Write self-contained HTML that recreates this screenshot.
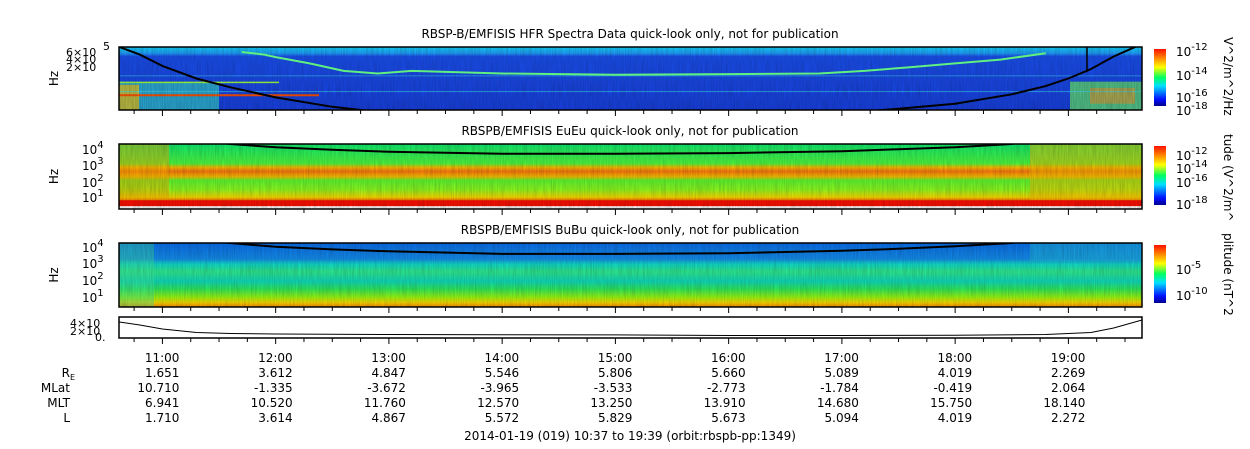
<!DOCTYPE html>
<html><head><meta charset="utf-8">
<style>
html,body{margin:0;padding:0;background:#fff;}
svg{display:block;font-family:"DejaVu Sans","Liberation Sans",sans-serif;}
</style></head>
<body>
<svg id="chart" width="1250" height="449" viewBox="0 0 1250 449">
<defs>
 <linearGradient id="jet" x1="0" y1="1" x2="0" y2="0">
  <stop offset="0" stop-color="#00008f"/><stop offset="0.12" stop-color="#0010ff"/>
  <stop offset="0.35" stop-color="#00e0ff"/><stop offset="0.5" stop-color="#00ff60"/>
  <stop offset="0.68" stop-color="#ffff00"/><stop offset="0.85" stop-color="#ff8000"/>
  <stop offset="1" stop-color="#ff1000"/>
 </linearGradient>
 <linearGradient id="g1" x1="0" y1="0" x2="0" y2="1">
  <stop offset="0" stop-color="#10d8ff"/><stop offset="0.1" stop-color="#20a0ff"/>
  <stop offset="0.15" stop-color="#1a50f0"/><stop offset="1" stop-color="#1840e0"/>
 </linearGradient>
 <linearGradient id="g2" x1="0" y1="0" x2="0" y2="1">
  <stop offset="0" stop-color="#10f070"/><stop offset="0.3" stop-color="#50ff40"/>
  <stop offset="0.36" stop-color="#ffc000"/><stop offset="0.42" stop-color="#ff7a10"/>
  <stop offset="0.5" stop-color="#ffc000"/><stop offset="0.56" stop-color="#60ff30"/>
  <stop offset="0.7" stop-color="#90ff20"/><stop offset="0.82" stop-color="#ffe000"/>
  <stop offset="0.86" stop-color="#ff8000"/><stop offset="0.87" stop-color="#ff1000"/>
  <stop offset="0.95" stop-color="#ff1000"/><stop offset="0.96" stop-color="#ffffff"/>
  <stop offset="1" stop-color="#ffffff"/>
 </linearGradient>
 <linearGradient id="g3" x1="0" y1="0" x2="0" y2="1">
  <stop offset="0" stop-color="#0a70f0"/><stop offset="0.25" stop-color="#1490f0"/>
  <stop offset="0.33" stop-color="#10e0d0"/><stop offset="0.45" stop-color="#30f090"/>
  <stop offset="0.6" stop-color="#10e0c0"/><stop offset="0.72" stop-color="#30f060"/>
  <stop offset="0.85" stop-color="#a0ff10"/><stop offset="0.93" stop-color="#ffe000"/>
  <stop offset="1" stop-color="#ff9000"/>
 </linearGradient>
 <filter id="noise" x="0" y="0" width="100%" height="100%">
  <feTurbulence type="fractalNoise" baseFrequency="0.9 0.05" numOctaves="2" seed="3"/>
  <feColorMatrix type="matrix" values="0 0 0 0 0  0 0 0 0 0  0 0 0 0 0  0 0 0 0.25 0"/>
  <feComposite in2="SourceGraphic" operator="in"/>
 </filter>
</defs>
<g id="plots"></g>
</svg>
<script>
const NS="http://www.w3.org/2000/svg";
const svg=document.getElementById('plots');
const startH=10+37/60, endH=19+39/60;
const X0=119, X1=1142;
const tx=h=>X0+(h-startH)/(endH-startH)*(X1-X0);
const tickHours=[11,12,13,14,15,16,17,18,19];
const tickLabels=["11:00","12:00","13:00","14:00","15:00","16:00","17:00","18:00","19:00"];
const rE=["1.651","3.612","4.847","5.546","5.806","5.660","5.089","4.019","2.269"];
const mLat=["10.710","-1.335","-3.672","-3.965","-3.533","-2.773","-1.784","-0.419","2.064"];
const mlt=["6.941","10.520","11.760","12.570","13.250","13.910","14.680","15.750","18.140"];
const lShell=["1.710","3.614","4.867","5.572","5.829","5.673","5.094","4.019","2.272"];
const curveH=[10.62,10.8,11.0,11.3,11.6,12.0,12.5,13,14,15,16,17,17.5,18,18.5,18.8,19.0,19.2,19.4,19.65];
const fce1=[0,0.12,0.3,0.5,0.64,0.8,0.95,1.05,1.15,1.2,1.15,1.05,0.98,0.9,0.75,0.62,0.5,0.35,0.15,-0.05];
const uhrH=[11.7,11.9,12.0,12.3,12.6,12.9,13.2,14,15,16,16.8,17.2,17.6,18,18.4,18.8];
const uhr=[0.08,0.12,0.16,0.26,0.38,0.42,0.38,0.42,0.44,0.43,0.42,0.38,0.32,0.26,0.2,0.1];
const fce2=[-0.6,-0.4,-0.2,-0.05,0.0,0.05,0.09,0.12,0.15,0.15,0.14,0.11,0.08,0.05,0.0,-0.1,-0.2,-0.35,-0.5,-0.7];
const fce3=[-0.6,-0.4,-0.2,-0.05,0.0,0.06,0.1,0.13,0.17,0.17,0.16,0.12,0.09,0.05,0.0,-0.1,-0.2,-0.35,-0.5,-0.7];
const p4H=[10.62,10.8,11.0,11.3,11.6,12,13,14,15,16,17,18,18.8,19.2,19.4,19.65];
const p4V=[3.0,2.4,1.6,0.9,0.7,0.6,0.5,0.45,0.42,0.3,0.3,0.35,0.5,0.9,1.8,3.4];

function el(tag,attrs,parent){const e=document.createElementNS(NS,tag);for(const k in attrs)e.setAttribute(k,attrs[k]);(parent||svg).appendChild(e);return e;}
function txt(x,y,s,anchor,size,parent){const t=el('text',{x:x,y:y,'text-anchor':anchor||'start','font-size':size||12,fill:'#000'},parent);t.textContent=s;return t;}

const panels=[
 {y0:47,y1:110,fill:'url(#g1)',title:'RBSP-B/EMFISIS  HFR Spectra Data quick-look only, not for publication',cb:'V^2/m^2/Hz',name:'hfr'},
 {y0:144,y1:209,fill:'url(#g2)',title:'RBSPB/EMFISIS  EuEu quick-look only, not for publication',cb:'tude (V^2/m^',name:'eueu'},
 {y0:243,y1:307,fill:'url(#g3)',title:'RBSPB/EMFISIS  BuBu quick-look only, not for publication',cb:'plitude (nT^2',name:'bubu'}
];
panels.forEach((p,i)=>{
 const g=el('g',{});
 
 
 const h=p.y1-p.y0;
 el('rect',{x:X0,y:p.y0,width:X1-X0,height:h,fill:p.fill},g);
 if(i===0){
  el('rect',{x:X0,y:p.y0+h*0.55,width:100,height:h*0.45,fill:'#30c0d0',opacity:0.8},g);
  el('rect',{x:X0,y:p.y0+h*0.6,width:20,height:h*0.4,fill:'#e0c020',opacity:0.8},g);
  el('rect',{x:X0,y:p.y0+h*0.75,width:200,height:2,fill:'#ff5000'},g);
  el('rect',{x:X0,y:p.y0+h*0.55,width:160,height:1.5,fill:'#a0ff40'},g);
  el('rect',{x:1070,y:p.y0+h*0.55,width:72,height:h*0.45,fill:'#60e070',opacity:0.8},g);
  el('rect',{x:1090,y:p.y0+h*0.65,width:45,height:h*0.25,fill:'#ff9020',opacity:0.5},g);
  el('rect',{x:X0,y:p.y0+h*0.7,width:1023,height:1,fill:'#40e0ff',opacity:0.6},g);
  el('rect',{x:X0,y:p.y0+h*0.45,width:1023,height:1,fill:'#40e0ff',opacity:0.5},g);
 }
 if(i===1){
  el('rect',{x:X0,y:p.y0,width:50,height:h*0.86,fill:'#ffb000',opacity:0.45},g);
  el('rect',{x:1030,y:p.y0,width:112,height:h*0.86,fill:'#ffc000',opacity:0.5},g);
 }
 if(i===2){
  el('rect',{x:X0,y:p.y0,width:35,height:h,fill:'#40f0a0',opacity:0.4},g);
  el('rect',{x:1030,y:p.y0,width:112,height:h*0.3,fill:'#20c0e0',opacity:0.5},g);
 }
 el('rect',{x:X0,y:p.y0,width:X1-X0,height:h,fill:'#000',filter:'url(#noise)'},g);
 const crv=i===0?fce1:(i===1?fce2:fce3);
 const cp=el('clipPath',{id:'clip'+i},g);
 el('rect',{x:X0,y:p.y0,width:X1-X0,height:h},cp);
 const pts=curveH.map((hh,k)=>tx(hh).toFixed(1)+','+(p.y0+crv[k]*h).toFixed(1)).join(' ');
 const line=el('polyline',{points:pts,fill:'none',stroke:'#000','stroke-width':2,'clip-path':'url(#clip'+i+')'},g);
 
 
 if(i===0){
  const up=uhrH.map((hh,k)=>tx(hh).toFixed(1)+','+(p.y0+uhr[k]*h).toFixed(1)).join(' ');
  const ul=el('polyline',{points:up,fill:'none',stroke:'#60f080','stroke-width':2},g);
  
  
  el('line',{x1:1087,y1:p.y0,x2:1087,y2:p.y0+h*0.4,stroke:'#000','stroke-width':1.5},g);
 }
 el('rect',{x:X0,y:p.y0,width:X1-X0,height:h,fill:'none',stroke:'#000','stroke-width':1.5},g);
 const t=txt(630,p.y0-9,p.title,'middle',12);
 
 
 const yl=txt(0,0,'Hz','middle',12);
 yl.setAttribute('transform','translate('+58+','+(p.y0+h/2)+') rotate(-90)');
 
 
 const cb=el('rect',{x:1154,y:p.y0+2,width:12,height:h-6,fill:'url(#jet)'});
 
 
 const ct=txt(0,0,p.cb,'start',12);
 ct.setAttribute('transform','translate(1224,'+(p.y0-10)+') rotate(90)');
 
 
 for(let m=0;m<=36;m++){const hh=10.75+m*0.25;if(hh>endH)break;const major=Math.abs(hh-Math.round(hh))<1e-6;
  el('line',{x1:tx(hh),x2:tx(hh),y1:p.y1,y2:p.y1+(major?6:4),stroke:'#000'});}
});
function sup(x,y,base,exp){const t=el('text',{x:x,y:y,'font-size':12});t.textContent=base;const s=el('tspan',{dy:-6,'font-size':10},t);s.textContent=exp;return t;}
[['-12',52],['-14',76],['-16',98],['-18',111]].forEach(a=>sup(1176,a[1]+4,'10',a[0]));
[['-12',158],['-14',171],['-16',185],['-18',207]].forEach(a=>sup(1176,a[1]+2,'10',a[0]));
[['-5',270],['-10',296]].forEach(a=>sup(1176,a[1]+4,'10',a[0]));
[['4',150],['3',166],['2',183],['1',198]].forEach(a=>sup(82,a[1]+4,'10',a[0]));
[['4',248],['3',264],['2',281],['1',298]].forEach(a=>sup(82,a[1]+4,'10',a[0]));
txt(66,56,'6×10','start',11);txt(66,63,'4×10','start',11);txt(66,71,'2×10','start',11);
el('text',{x:103,y:50,'font-size':11}).textContent='5';
const g4=el('g',{});


el('rect',{x:X0,y:317,width:X1-X0,height:21,fill:'#fff',stroke:'#000','stroke-width':1.5},g4);
const ys=v=>337-v/4*20;
const p4=el('polyline',{points:p4H.map((hh,k)=>tx(hh).toFixed(1)+','+ys(p4V[k]).toFixed(1)).join(' '),fill:'none',stroke:'#000','stroke-width':1},g4);


txt(70,327,'4×10','start',11);txt(70,335,'2×10','start',11);txt(95,341,'0.','start',11);
for(let m=0;m<=36;m++){const hh=10.75+m*0.25;if(hh>endH)break;const major=Math.abs(hh-Math.round(hh))<1e-6;
 el('line',{x1:tx(hh),x2:tx(hh),y1:338,y2:338+(major?6:4),stroke:'#000'});}
const rows=[tickLabels,rE,mLat,mlt,lShell];
const rowY=[362,377,392,407,422];
const rowNames=['time-tick-labels','re-row','mlat-row','mlt-row','l-row'];
rows.forEach((r,ri)=>{
 r.forEach((s,k)=>{const t=txt(tx(tickHours[k])+17,rowY[ri],s,'end',12);
  
  });
});
const lbl=[['R',377],['MLat',392],['MLT',407],['L',422]];
lbl.forEach(a=>{const t=txt(70,a[1],a[0],'end',12);});
el('text',{x:70,y:380,'font-size':8}).textContent='E';
const ft=txt(630,440,'2014-01-19 (019) 10:37 to 19:39 (orbit:rbspb-pp:1349)','middle',12);


</script>
</body></html>
